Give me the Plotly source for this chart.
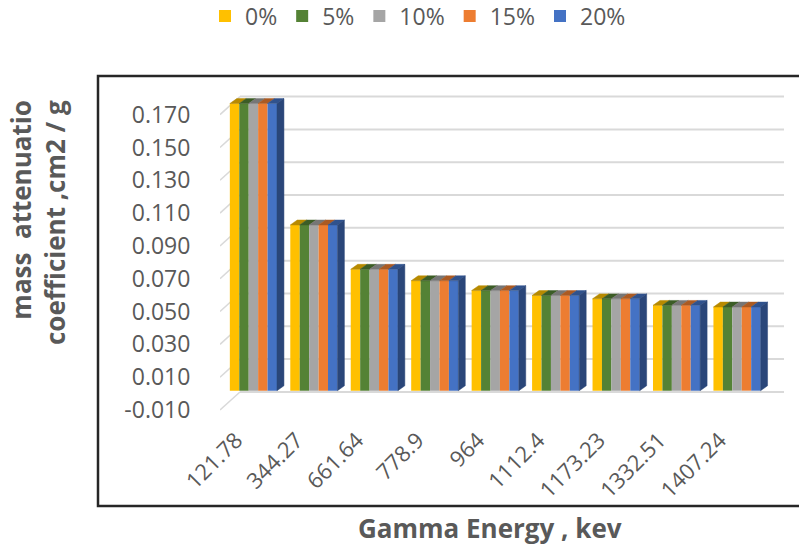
import plotly.graph_objects as go

# ---- data -------------------------------------------------------------
ENERGY_KEV = ["121.78", "344.27", "661.64", "778.9", "964",
              "1112.4", "1173.23", "1332.51", "1407.24"]
SERIES = ["0%", "5%", "10%", "15%", "20%"]

MU_0 = [0.175, 0.101, 0.074, 0.067, 0.061, 0.058, 0.056, 0.052, 0.051]
MU_5 = [0.175, 0.101, 0.074, 0.067, 0.061, 0.058, 0.056, 0.052, 0.051]
MU_10 = [0.175, 0.101, 0.074, 0.067, 0.061, 0.058, 0.056, 0.052, 0.051]
MU_15 = [0.175, 0.101, 0.074, 0.067, 0.061, 0.058, 0.056, 0.052, 0.051]
MU_20 = [0.175, 0.101, 0.074, 0.067, 0.061, 0.058, 0.056, 0.052, 0.051]
VALUES = [MU_0, MU_5, MU_10, MU_15, MU_20]

Y_TICKS = [-0.010, 0.010, 0.030, 0.050, 0.070, 0.090, 0.110, 0.130, 0.150, 0.170]

# ---- style ------------------------------------------------------------
COLORS = ["#FFC000", "#548235", "#A5A5A5", "#ED7D31", "#4472C4"]
TEXT = "#595959"
GRID = "#D9D9D9"
FONT = "Open Sans"

W, H = 799, 552
PLOT_L, PLOT_R, PLOT_T, PLOT_B = 220, 784, 80, 420

# pseudo-3D depth of the chart box (x in category units, y in value units)
DEPTH_X = 0.33
DEPTH_Y = 0.011
# bars sit a little behind the front plane and have their own depth
FRONT = 0.16
BAR_DX = 0.115
BAR_DY = 0.003
BAR_W = 0.156

X_RANGE = [-0.5, len(ENERGY_KEV) - 0.5 + DEPTH_X]
Y_RANGE = [-0.0161, 0.1911]


def shade(hex_color, k):
    h = hex_color.lstrip("#")
    r, g, b = (int(h[i:i + 2], 16) for i in (0, 2, 4))
    return "rgb({},{},{})".format(int(r * k), int(g * k), int(b * k))


def px_x(px):
    return (px - PLOT_L) / (PLOT_R - PLOT_L)


def px_y(py):
    return (PLOT_B - py) / (PLOT_B - PLOT_T)


xs = list(range(len(ENERGY_KEV)))
n = len(SERIES)
group_w = n * BAR_W
fx = FRONT * DEPTH_X
fy = FRONT * DEPTH_Y

fig = go.Figure()

# front faces of the columns
for i, (name, vals, col) in enumerate(zip(SERIES, VALUES, COLORS)):
    off = -group_w / 2 + i * BAR_W + fx
    fig.add_trace(go.Bar(
        x=xs, y=vals, base=fy, width=BAR_W, offset=off,
        marker=dict(color=col, line=dict(width=0)), name=name,
    ))

# top faces (and the right-hand side face of the last column in each group)
for i, (vals, col) in enumerate(zip(VALUES, COLORS)):
    off = -group_w / 2 + i * BAR_W + fx
    tx, ty = [], []
    sx, sy = [], []
    for x, v in zip(xs, vals):
        x0 = x + off
        x1 = x0 + BAR_W
        t = v + fy
        b = fy
        tx += [x0, x1, x1 + BAR_DX, x0 + BAR_DX, x0, None]
        ty += [t, t, t + BAR_DY, t + BAR_DY, t, None]
        sx += [x1, x1, x1 + BAR_DX, x1 + BAR_DX, x1, None]
        sy += [b, t, t + BAR_DY, b + BAR_DY, b, None]
    fig.add_trace(go.Scatter(
        x=tx, y=ty, mode="lines", fill="toself",
        fillcolor=shade(col, 0.72), line=dict(width=0.5, color=shade(col, 0.72)),
        showlegend=False, hoverinfo="skip",
    ))
    if i == n - 1:
        fig.add_trace(go.Scatter(
            x=sx, y=sy, mode="lines", fill="toself",
            fillcolor=shade(col, 0.62), line=dict(width=0.5, color=shade(col, 0.62)),
            showlegend=False, hoverinfo="skip",
        ))

# walls: back gridlines and the slanted side-wall lines
shapes = []
x_left = X_RANGE[0]
x_right = len(ENERGY_KEV) - 0.5
for v in Y_TICKS:
    shapes.append(dict(type="line", xref="x", yref="y", layer="below",
                       x0=x_left + DEPTH_X, x1=x_right + DEPTH_X,
                       y0=v + DEPTH_Y, y1=v + DEPTH_Y,
                       line=dict(color=GRID, width=2)))
    shapes.append(dict(type="line", xref="x", yref="y", layer="below",
                       x0=x_left, x1=x_left + DEPTH_X,
                       y0=v, y1=v + DEPTH_Y,
                       line=dict(color=GRID, width=1.5)))

# outer frame around the chart (runs past the right edge)
shapes.append(dict(type="rect", xref="paper", yref="paper", layer="above",
                   x0=px_x(98), x1=px_x(815), y0=px_y(506), y1=px_y(76),
                   line=dict(color="#262626", width=2.5)))

annotations = [
    dict(text="Gamma Energy , kev", xref="paper", yref="paper",
         x=px_x(490), y=px_y(528), xanchor="center", yanchor="middle",
         showarrow=False, font=dict(family=FONT, size=26, color=TEXT, weight="bold")),
    dict(text="mass\u00a0 attenuatio<br>coefficient ,cm2 / g", xref="paper", yref="paper",
         x=px_x(38), y=px_y(223), xanchor="center", yanchor="middle", align="right",
         textangle=-90, showarrow=False,
         font=dict(family=FONT, size=26, color=TEXT, weight="bold")),
]

fig.update_layout(
    width=W, height=H,
    margin=dict(l=PLOT_L, r=W - PLOT_R, t=PLOT_T, b=H - PLOT_B, pad=0, autoexpand=False),
    paper_bgcolor="white", plot_bgcolor="white",
    barmode="overlay",
    font=dict(family=FONT, color=TEXT),
    showlegend=True,
    legend=dict(orientation="h", x=px_x(205), y=px_y(16), xanchor="left", yanchor="middle",
                font=dict(family=FONT, size=23, color=TEXT), traceorder="normal",
                itemwidth=30, bgcolor="rgba(0,0,0,0)"),
    xaxis=dict(range=X_RANGE, tickvals=xs, ticktext=ENERGY_KEV, tickangle=-45,
               showgrid=False, zeroline=False, showline=False, ticks="",
               ticklabelshift=-14, ticklabelstandoff=2,
               tickfont=dict(family=FONT, size=22, color=TEXT)),
    yaxis=dict(range=Y_RANGE, tickvals=Y_TICKS, ticktext=["{:.3f}".format(t) for t in Y_TICKS],
               showgrid=False, zeroline=False, showline=False,
               ticks="outside", ticklen=24, tickcolor="rgba(0,0,0,0)",
               tickfont=dict(family=FONT, size=23, color=TEXT)),
    shapes=shapes,
    annotations=annotations,
)

fig.write_html("out.html")
